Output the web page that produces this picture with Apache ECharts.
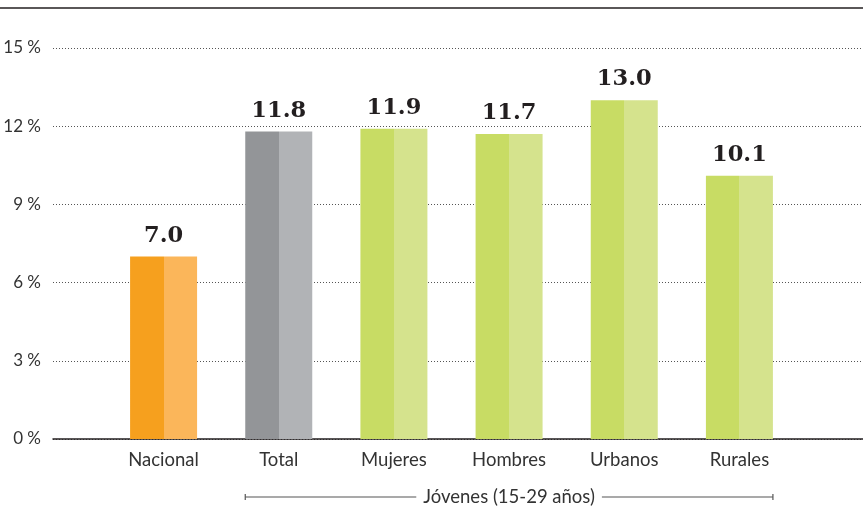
<!DOCTYPE html>
<html><head><meta charset="utf-8">
<script src="https://cdn.jsdelivr.net/npm/echarts@6/dist/echarts.min.js"></script>
<style>html,body{margin:0;padding:0;background:#fff}#c{width:863px;height:532px}</style>
</head><body><div id="c"></div>
<script>
const categories = ['Nacional','Total','Mujeres','Hombres','Urbanos','Rurales'];
const values = [7.0, 11.8, 11.9, 11.7, 13.0, 10.1];
const darkColors = ['#F6A01E','#939598','#C8DC64','#C8DC64','#C8DC64','#C8DC64'];
const lightColors = ['#FBB65A','#B1B3B6','#D5E38D','#D5E38D','#D5E38D','#D5E38D'];
const yTicks = [0,3,6,9,12,15];
const groupLabel = 'Jóvenes (15-29 años)';

const chart = echarts.init(document.getElementById('c'));
const font = 'Lato, "Open Sans", sans-serif';
const TOP = 48, BOTTOM = 93;
const data = values.map((v,i)=>({
  value: v,
  itemStyle: { color: { type:'linear', x:0, y:0, x2:1, y2:0, colorStops:[
    {offset:0,color:darkColors[i]},{offset:0.5,color:darkColors[i]},
    {offset:0.5,color:lightColors[i]},{offset:1,color:lightColors[i]}]}}
}));
chart.setOption({
  animation:false,
  grid:[{left:53,right:0,top:TOP,bottom:BOTTOM},{left:106,width:691,top:TOP,bottom:BOTTOM}],
  xAxis:[
    {gridIndex:0,type:'category',data:[''],axisLine:{show:true,lineStyle:{color:'#231F20',width:1.5}},axisTick:{show:false},axisLabel:{show:false}},
    {gridIndex:1,type:'category',data:categories,axisLine:{show:false},axisTick:{show:false},
     axisLabel:{margin:12,color:'#333',fontSize:18.5,fontFamily:font}}
  ],
  yAxis:[
    {gridIndex:0,type:'value',min:0,max:15,interval:3,axisLine:{show:false},axisTick:{show:false},
     axisLabel:{margin:12,color:'#333',fontSize:17,fontFamily:font,formatter:v=>yTicks.includes(v)? v+' %':''},
     splitLine:{show:true,lineStyle:{color:'#555',type:[1,2],width:1}}},
    {gridIndex:1,type:'value',min:0,max:15,interval:3,show:false,splitLine:{show:false}}
  ],
  series:[{
    type:'bar',xAxisIndex:1,yAxisIndex:1,barWidth:67,data:data,z:3,
    label:{show:true,position:'top',distance:9,formatter:p=>p.value.toFixed(1),
      fontFamily:'"DejaVu Serif", serif',fontWeight:'bold',fontSize:22.5,color:'#231F20'}
  }]
});
// bracket under group categories
const half = 33.5;
const x1 = chart.convertToPixel({xAxisIndex:1},categories[1]) - half;
const x2 = chart.convertToPixel({xAxisIndex:1},categories[5]) + half;
const ym = 497, mid = (x1+x2)/2;
const tw = echarts.format.getTextRect ? 0 : 0;
const ctx = document.createElement('canvas').getContext('2d');
ctx.font = '18.5px Lato';
const gap = ctx.measureText(groupLabel).width/2 + 7;
chart.setOption({graphic:[
  {type:'line',shape:{x1:0,y1:8,x2:863,y2:8},style:{stroke:'#231F20',lineWidth:1.5}},
  {type:'line',shape:{x1:x1,y1:ym,x2:mid-gap,y2:ym},style:{stroke:'#555',lineWidth:1.2}},
  {type:'line',shape:{x1:mid+gap,y1:ym,x2:x2,y2:ym},style:{stroke:'#555',lineWidth:1.2}},
  {type:'line',shape:{x1:x1,y1:ym-3,x2:x1,y2:ym+3},style:{stroke:'#555',lineWidth:1.2}},
  {type:'line',shape:{x1:x2,y1:ym-3,x2:x2,y2:ym+3},style:{stroke:'#555',lineWidth:1.2}},
  {type:'text',x:mid,y:ym,style:{text:groupLabel,align:'center',verticalAlign:'middle',fontSize:18.5,fontFamily:font,fill:'#333'}}
]});
</script></body></html>
